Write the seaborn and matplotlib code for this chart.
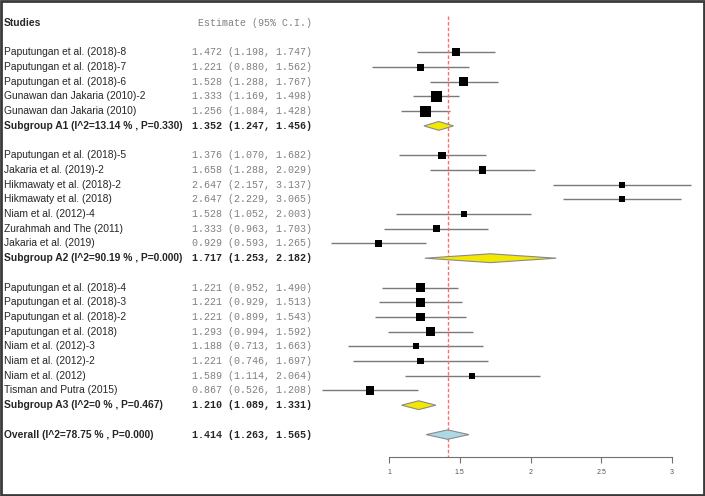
import matplotlib.pyplot as plt
import matplotlib.patches as mpatches
import matplotlib.transforms as mtransforms
import numpy as np
import pandas as pd
import seaborn as sns

# ---- data ----
a1_names = ["Paputungan et al. (2018)-8", "Paputungan et al. (2018)-7", "Paputungan et al. (2018)-6",
            "Gunawan dan Jakaria (2010)-2", "Gunawan dan Jakaria (2010)"]
a1_est = [1.472, 1.221, 1.528, 1.333, 1.256]
a1_lo = [1.198, 0.880, 1.288, 1.169, 1.084]
a1_hi = [1.747, 1.562, 1.767, 1.498, 1.428]
a1_w = [64, 49, 81, 121, 121]

a2_names = ["Paputungan et al. (2018)-5", "Jakaria et al. (2019)-2", "Hikmawaty et al. (2018)-2",
            "Hikmawaty et al. (2018)", "Niam et al. (2012)-4", "Zurahmah and The (2011)", "Jakaria et al. (2019)"]
a2_est = [1.376, 1.658, 2.647, 2.647, 1.528, 1.333, 0.929]
a2_lo = [1.070, 1.288, 2.157, 2.229, 1.052, 0.963, 0.593]
a2_hi = [1.682, 2.029, 3.137, 3.065, 2.003, 1.703, 1.265]
a2_w = [56, 49, 36, 36, 36, 49, 49]

a3_names = ["Paputungan et al. (2018)-4", "Paputungan et al. (2018)-3", "Paputungan et al. (2018)-2",
            "Paputungan et al. (2018)", "Niam et al. (2012)-3", "Niam et al. (2012)-2", "Niam et al. (2012)",
            "Tisman and Putra (2015)"]
a3_est = [1.221, 1.221, 1.221, 1.293, 1.188, 1.221, 1.589, 0.867]
a3_lo = [0.952, 0.929, 0.899, 0.994, 0.713, 0.746, 1.114, 0.526]
a3_hi = [1.490, 1.513, 1.543, 1.592, 1.663, 1.697, 2.064, 1.208]
a3_w = [81, 72, 72, 72, 36, 42, 36, 64]

sub_names = ["Subgroup A1 (I^2=13.14 % , P=0.330)", "Subgroup A2 (I^2=90.19 % , P=0.000)",
             "Subgroup A3 (I^2=0 % , P=0.467)"]
sub_est = [1.352, 1.717, 1.210]
sub_lo = [1.247, 1.253, 1.089]
sub_hi = [1.456, 2.182, 1.331]

overall_name = "Overall (I^2=78.75 % , P=0.000)"
overall = [1.414, 1.263, 1.565]

ticks = [1, 1.5, 2, 2.5, 3]

# ---- build row layout ----
studies = []
subs = []
row = 2
groups = [(a1_names, a1_est, a1_lo, a1_hi, a1_w),
          (a2_names, a2_est, a2_lo, a2_hi, a2_w),
          (a3_names, a3_est, a3_lo, a3_hi, a3_w)]
for gi, (nm, es, lo, hi, w) in enumerate(groups):
    for i in range(len(nm)):
        studies.append(dict(name=nm[i], est=es[i], lo=lo[i], hi=hi[i], w=w[i], row=row))
        row += 1
    subs.append(dict(name=sub_names[gi], est=sub_est[gi], lo=sub_lo[gi], hi=sub_hi[gi], row=row))
    row += 2
df = pd.DataFrame(studies)
sdf = pd.DataFrame(subs)
overall_row = row

sns.set_theme(style="white")
plt.rcParams['font.family'] = ['Liberation Sans', 'DejaVu Sans']

W, H = 705, 496
fig = plt.figure(figsize=(W / 100, H / 100), dpi=100)
ax = fig.add_axes([0, 0, 1, 1])

# pixel mapping: x=1 at 389px, 141.5 px per unit; row 0 at 23px, 14.7 px per row
px_unit, x1_px = 141.5, 389
ax.set_xlim(1 - x1_px / px_unit, 1 + (W - x1_px) / px_unit)
row0_px, row_px = 23, 14.7
ax.set_ylim((H - row0_px) / row_px, -row0_px / row_px)
axis_row = (457 - row0_px) / row_px

# CI lines
ax.hlines(df["row"], df["lo"], df["hi"], color="#7a7a7a", lw=1, zorder=1)

# study squares sized by weight
sns.scatterplot(data=df, x="est", y="row", size="w", sizes=(19, 63), size_norm=(36, 121),
                marker="s", color="black", edgecolor="black", linewidth=0, legend=False, ax=ax, zorder=3)

# diamonds
hh = 0.3
for _, r in sdf.iterrows():
    ax.fill([r["lo"], r["est"], r["hi"], r["est"]], [r["row"], r["row"] - hh, r["row"], r["row"] + hh],
            facecolor="#f2e800", edgecolor="#8a8a8a", lw=0.8, zorder=3)
ax.fill([overall[1], overall[0], overall[2], overall[0]],
        [overall_row, overall_row - 0.32, overall_row, overall_row + 0.32],
        facecolor="#add8e6", edgecolor="#8a8a8a", lw=0.8, zorder=3)

# reference line at overall estimate
ax.vlines(overall[0], -0.5, axis_row, color="#ff6b6b", lw=1, linestyles=(0, (2.5, 1.5)), zorder=2)

# bottom axis
for s in ["top", "right", "left"]:
    ax.spines[s].set_visible(False)
ax.spines["bottom"].set_position(("data", axis_row))
ax.spines["bottom"].set_bounds(ticks[0], ticks[-1])
ax.spines["bottom"].set_color("#707070")
ax.spines["bottom"].set_linewidth(0.8)
ax.set_xticks(ticks)
ax.set_xticklabels([f"{t:g}" for t in ticks])
ax.tick_params(axis="x", bottom=True, length=4, width=0.8, color="#707070", labelsize=5,
               labelcolor="#555555", pad=5)
ax.set_yticks([])
ax.set_xlabel("")
ax.set_ylabel("")

# text columns
tr = mtransforms.blended_transform_factory(ax.transAxes, ax.transData)
xl = 4 / W
xr = 312 / W
mono = ['Liberation Mono', 'DejaVu Sans Mono']
fs = 7.4
ax.text(xl, 0, "Studies", transform=tr, ha="left", va="center", fontsize=fs, fontweight="bold")
ax.text(xr, 0, "Estimate (95% C.I.)", transform=tr, ha="right", va="center", fontsize=7.2,
        family=mono, color="#808080")
for _, r in df.iterrows():
    ax.text(xl, r["row"], r["name"], transform=tr, ha="left", va="center", fontsize=fs)
    ax.text(xr, r["row"], f"{r['est']:.3f} ({r['lo']:.3f}, {r['hi']:.3f})", transform=tr,
            ha="right", va="center", fontsize=7.2, family=mono, color="#808080")
for _, r in sdf.iterrows():
    ax.text(xl, r["row"], r["name"], transform=tr, ha="left", va="center", fontsize=fs, fontweight="bold")
    ax.text(xr, r["row"], f"{r['est']:.3f} ({r['lo']:.3f}, {r['hi']:.3f})", transform=tr,
            ha="right", va="center", fontsize=7.2, family=mono, fontweight="bold")
ax.text(xl, overall_row, overall_name, transform=tr, ha="left", va="center", fontsize=fs, fontweight="bold")
ax.text(xr, overall_row, f"{overall[0]:.3f} ({overall[1]:.3f}, {overall[2]:.3f})", transform=tr,
        ha="right", va="center", fontsize=7.2, family=mono, fontweight="bold")

# image frame
fig.patches.append(mpatches.Rectangle((0.002, 0.002), 0.996, 0.996, transform=fig.transFigure,
                                      fill=False, edgecolor="#3a3a3a", lw=2))

fig.savefig("out.png", dpi=100)
